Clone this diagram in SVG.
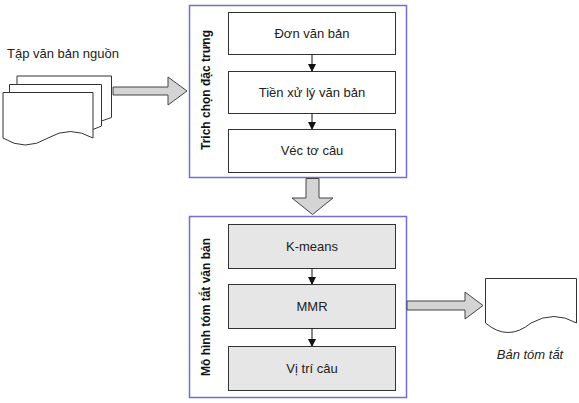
<svg xmlns="http://www.w3.org/2000/svg" width="579" height="403" viewBox="0 0 579 403">
<defs>
<style>
.container{fill:#ffffff;stroke:#6f6fd6;stroke-width:1.5}
.box{fill:#ffffff;stroke:#333333;stroke-width:1}
.gbox{fill:#e6e6e6;stroke:#333333;stroke-width:1}
.doc{fill:#ffffff;stroke:#333333;stroke-width:1}
.big{fill:#d4d4d4;stroke:#444444;stroke-width:1}
.lbl{font-family:"Liberation Sans",Arial,sans-serif;font-size:13px;fill:#222222;text-anchor:middle}
.vlbl{font-family:"Liberation Sans",Arial,sans-serif;font-size:12px;font-weight:bold;fill:#111111;text-anchor:middle}
.conn{stroke:#111111;stroke-width:1;fill:none}
</style>
<marker id="ah" markerWidth="8" markerHeight="8" refX="7" refY="4" orient="auto" markerUnits="userSpaceOnUse">
<path d="M0,0 L8,4 L0,8 Z" fill="#111111"/>
</marker>
</defs>
<rect width="579" height="403" fill="#ffffff"/>

<g id="source-docs">
<path class="doc" d="M17,84 V76 H111.5 V117.5 L101.5,121"/>
<path class="doc" d="M9.5,92.5 V84.5 H101.5 V126 L93,129.5"/>
<path class="doc" d="M3,92.5 H93 V138 Q70,125 48,138 Q25,152 3,138 Z"/>
<text class="lbl" x="63" y="58">Tập văn bản nguồn</text>
</g>

<g id="container-top">
<rect class="container" x="189.5" y="5.5" width="217" height="172"/>
<text class="vlbl" transform="translate(210,90) rotate(-90)">Trich chọn đặc trưng</text>
</g>

<g id="node-don-van-ban">
<rect class="box" x="228.5" y="12.5" width="167" height="42"/>
<text class="lbl" x="312" y="38">Đơn văn bản</text>
</g>
<g id="node-tien-xu-ly">
<rect class="box" x="228.5" y="71.5" width="167" height="42"/>
<text class="lbl" x="312" y="97">Tiền xử lý văn bản</text>
</g>
<g id="node-vec-to-cau">
<rect class="box" x="228.5" y="129.5" width="167" height="43"/>
<text class="lbl" x="312" y="155">Véc tơ câu</text>
</g>

<g id="container-bottom">
<rect class="container" x="189.5" y="216.5" width="217" height="181"/>
<text class="vlbl" transform="translate(210,307) rotate(-90)">Mô hình tóm tắt văn bản</text>
</g>

<g id="node-kmeans">
<rect class="gbox" x="228.5" y="224.5" width="167" height="44"/>
<text class="lbl" x="312" y="251">K-means</text>
</g>
<g id="node-mmr">
<rect class="gbox" x="228.5" y="284.5" width="167" height="44"/>
<text class="lbl" x="312" y="311">MMR</text>
</g>
<g id="node-vi-tri-cau">
<rect class="gbox" x="228.5" y="346.5" width="167" height="44"/>
<text class="lbl" x="312" y="373">Vị trí câu</text>
</g>

<g id="output-doc">
<path class="doc" d="M485.5,278.5 H576.5 V323 Q554,310 531,323 Q508,342 485.5,323 Z"/>
<text class="lbl" x="530" y="359" font-style="italic">Bản tóm tắt</text>
</g>

<g id="connectors">
<line class="conn" x1="312" y1="54.5" x2="312" y2="71" marker-end="url(#ah)"/>
<line class="conn" x1="312" y1="113.5" x2="312" y2="129" marker-end="url(#ah)"/>
<line class="conn" x1="312" y1="268.5" x2="312" y2="284" marker-end="url(#ah)"/>
<line class="conn" x1="312" y1="328.5" x2="312" y2="346" marker-end="url(#ah)"/>
<polygon class="big" points="113,87 168,87 168,77 187,91 168,105 168,95 113,95"/>
<polygon class="big" points="306,178.5 319,178.5 319,198 333,198 312.5,214.5 292,198 306,198"/>
<polygon class="big" points="407,301 465,301 465,292 483,305.5 465,319 465,310 407,310"/>
</g>
</svg>
